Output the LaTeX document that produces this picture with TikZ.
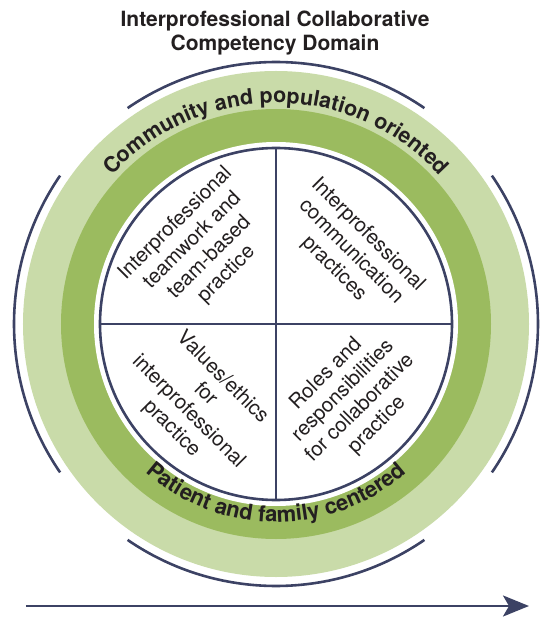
\documentclass[tikz,border=0pt]{standalone}
\usepackage{fontspec}
\setmainfont{TeX Gyre Heros}
\usepackage{tikz}
\usetikzlibrary{arrows.meta,decorations.text}

\definecolor{ink}{HTML}{231F20}
\definecolor{navy}{HTML}{3C4264}
\definecolor{palegreen}{HTML}{C9DBA9}
\definecolor{leafgreen}{HTML}{9BBB5F}

\newcommand{\titlefont}{\fontsize{21}{24}\selectfont\bfseries}
\newcommand{\bandfont}{\fontsize{21.5}{21.5}\selectfont\bfseries}
\newcommand{\lowbandfont}{\fontsize{22}{22}\selectfont\bfseries}
\newcommand{\quadfont}{\fontsize{20.5}{24}\selectfont}

\begin{document}
\begin{tikzpicture}[x=1pt,y=1pt,
  rim/.style={navy,line width=2.6pt},
  quad/.style={ink,align=center,inner sep=0pt,font=\quadfont}]

  \useasboundingbox (-276,-294) rectangle (264,324);

  \coordinate (o) at (0,0);
  \coordinate (n) at (90:176pt);
  \coordinate (s) at (270:176pt);
  \coordinate (w) at (180:176pt);
  \coordinate (e) at (0:176pt);

  \fill[palegreen] (o) circle[radius=253pt];
  \fill[leafgreen] (o) circle[radius=215pt];
  \fill[white] (o) circle[radius=182pt];
  \draw[rim] (o) circle[radius=176pt];
  \draw[rim] (n) -- (s)  (w) -- (e);

  \foreach \a in {0,90,180,270}
    \draw[rim] (\a-34.5:262pt) arc[start angle=\a-34.5, end angle=\a+34.5, radius=262pt];

  \path[decorate,decoration={text along path,text align=center,text color=ink,
      text={|\bandfont|Community and population oriented}}]
    (180:221pt) arc[start angle=180, end angle=0, radius=221pt];
  \path[decorate,decoration={text along path,text align=center,text color=ink,
      text={|\lowbandfont|Patient and family centered}}]
    (180:198pt) arc[start angle=180, end angle=360, radius=198pt];

  \node[quad,rotate=45] (teamwork) at (135:106pt) {Interprofessional\\teamwork and\\team-based\\practice};
  \node[quad,rotate=-45] (communication) at (44:104pt) {Interprofessional\\communication\\practices};
  \node[quad,rotate=-45] (values) at (225:112pt) {Values/ethics\\for\\interprofessional\\practice};
  \node[quad,rotate=45] (roles) at (315:107pt) {Roles and\\responsibilities\\for collaborative\\practice};

  \node[ink,align=center,anchor=base,inner sep=0pt,font=\titlefont] (domain) at (-1,273)
    {Interprofessional Collaborative\\Competency Domain};

  \coordinate (tail) at (-250,-282);
  \coordinate (head) at (253,-282);
  \draw[rim,-{Stealth[length=26pt,width=21pt,inset=6pt]}] (tail) -- (head);

\end{tikzpicture}
\end{document}
